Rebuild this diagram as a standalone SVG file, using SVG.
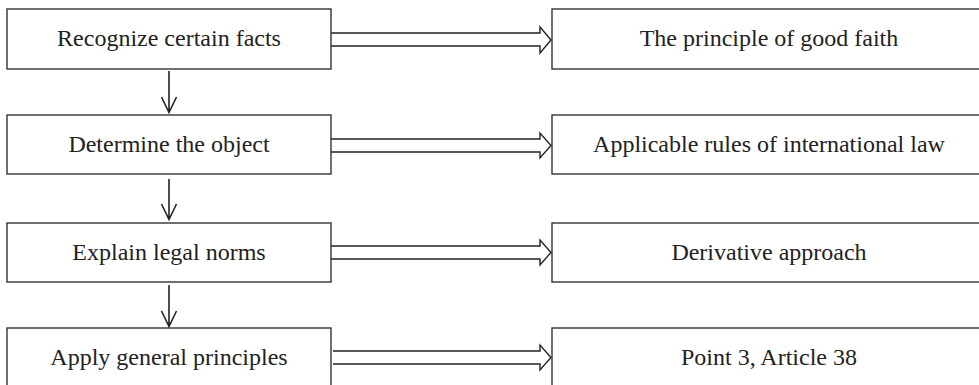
<svg xmlns="http://www.w3.org/2000/svg" width="979" height="385" viewBox="0 0 979 385">
<style>
.box{fill:#fff;stroke:#333;stroke-width:1.4}
.t{font-family:"Liberation Serif","Times New Roman",serif;font-size:24px;fill:#222;text-anchor:middle}
.c{fill:none;stroke:#222;stroke-width:1.4}
.d{fill:none;stroke:#222;stroke-width:1.6}
</style>
<rect width="979" height="385" fill="#fff"/>
<g id="connectors">
<path class="c" d="M331,33 H540 V27 L551,40 L540,53 V46 H331"/>
<path class="c" d="M331,139 H540 V133 L551,145.5 L540,158 V152 H331"/>
<path class="c" d="M331,246 H540 V240 L551,252.5 L540,265 V259 H331"/>
<path class="c" d="M333,351 H540 V345 L551,357.5 L540,370 V364 H333"/>
<path class="d" d="M169,71 V112 M161.5,97 L169,112.5 L176.5,97"/>
<path class="d" d="M169,179 V219 M161.5,204 L169,219.5 L176.5,204"/>
<path class="d" d="M169,285 V326 M161.5,311 L169,326.5 L176.5,311"/>
</g>
<g id="n1"><rect class="box" x="7" y="9" width="324" height="60"/><text class="t" x="169" y="46">Recognize certain facts</text></g>
<g id="n2"><rect class="box" x="7" y="115" width="324" height="59"/><text class="t" x="169" y="151.5">Determine the object</text></g>
<g id="n3"><rect class="box" x="7" y="223" width="324" height="59"/><text class="t" x="169" y="259.5">Explain legal norms</text></g>
<g id="n4"><rect class="box" x="7" y="328" width="324" height="60"/><text class="t" x="169" y="365">Apply general principles</text></g>
<g id="m1"><rect class="box" x="552" y="9" width="436" height="60"/><text class="t" x="769" y="46">The principle of good faith</text></g>
<g id="m2"><rect class="box" x="552" y="115" width="436" height="59"/><text class="t" x="769" y="151.5">Applicable rules of international law</text></g>
<g id="m3"><rect class="box" x="552" y="223" width="436" height="59"/><text class="t" x="769" y="259.5">Derivative approach</text></g>
<g id="m4"><rect class="box" x="552" y="328" width="436" height="60"/><text class="t" x="769" y="365">Point 3, Article 38</text></g>
</svg>
